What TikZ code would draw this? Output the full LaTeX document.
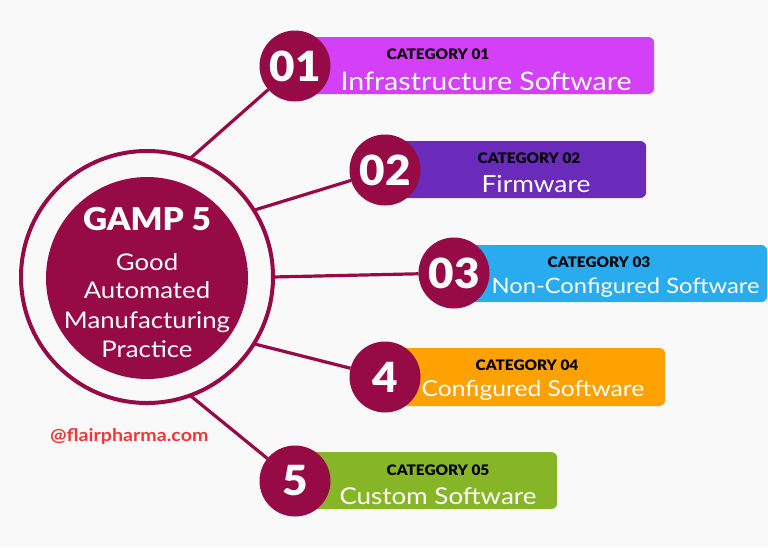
\documentclass[tikz,border=0pt]{standalone}
\usepackage{fontspec}
\setmainfont{Lato}[FakeStretch=1.12]
\newfontfamily\heavy{Lato Black}[FakeStretch=1.06]
\definecolor{bgc}{HTML}{F9F9F9}
\definecolor{maroon}{HTML}{960A46}
\definecolor{cA}{HTML}{D440F8}
\definecolor{cB}{HTML}{6A2ABA}
\definecolor{cC}{HTML}{29ABEF}
\definecolor{cD}{HTML}{FFA100}
\definecolor{cE}{HTML}{86B627}
\definecolor{wm}{HTML}{F53535}
\begin{document}
\begin{tikzpicture}[x=1pt,y=-1pt,
  num/.style={circle, fill=maroon, text=white, minimum size=71pt, inner sep=0pt, outer sep=0pt, font=\heavy\fontsize{41.5}{41.5}\selectfont},
  cbox/.style={rounded corners=6pt, minimum height=57pt, inner sep=0pt, anchor=west},
  cat/.style={anchor=base, inner sep=0pt, font=\heavy\fontsize{14.5}{14.5}\selectfont, text=black},
  ctext/.style={anchor=base, inner sep=0pt, text=white},
  mid/.style={anchor=base, inner sep=0pt, font=\fontsize{23}{23}\selectfont, text=white},
  link/.style={draw=maroon, line width=3.2pt}]
\fill[bgc] (0,0) rectangle (768,547);
\useasboundingbox (0,0) rectangle (768,547);
% boxes
\node[cbox, fill=cA, minimum width=359pt] (b1) at (295,65.5) {};
\node[cbox, fill=cB, minimum width=261pt] (b2) at (385,169.5) {};
\node[cbox, fill=cC, minimum width=313pt] (b3) at (454,273.5) {};
\node[cbox, fill=cD, minimum width=280pt, minimum height=58pt] (b4) at (385,377) {};
\node[cbox, fill=cE, minimum width=262pt] (b5) at (295,480.5) {};
% texts
\node[cat] (t1) at (438,59) {CATEGORY 01};
\node[ctext, font=\fontsize{25.5}{25.5}\selectfont] (s1) at (486,90.5) {Infrastructure Software};
\node[cat] (t2) at (529,163) {CATEGORY 02};
\node[ctext, font=\fontsize{23.5}{23.5}\selectfont] (s2) at (536,192.7) {Firmware};
\node[cat] (t3) at (599,267.3) {CATEGORY 03};
\node[ctext, font=\fontsize{21.2}{21.2}\selectfont] (s3) at (625.5,293.5) {Non-Configured Software};
\node[cat] (t4) at (527,370.7) {CATEGORY 04};
\node[ctext, font=\fontsize{22}{22}\selectfont] (s4) at (533,396.7) {Configured Software};
\node[cat] (t5) at (438,475) {CATEGORY 05};
\node[ctext, font=\fontsize{23.2}{23.2}\selectfont] (s5) at (438,504) {Custom Software};
% number circles
\node[num] (n1) at (295,66) {01};
\node[num] (n2) at (385,170) {02};
\node[num] (n3) at (454,273) {03};
\node[num] (n4) at (385,377) {4};
\node[num] (n5) at (295,481) {5};
% hub
\node[circle, draw=maroon, line width=4pt, minimum size=252pt, inner sep=0pt, outer sep=0pt] (ring) at (147,277) {};
\node[circle, fill=maroon, minimum size=202pt, inner sep=0pt] (hub) at (147,278) {};
\node[anchor=base, inner sep=0pt, text=white, font=\heavy\fontsize{31.5}{31.5}\selectfont] (title) at (147,230.7) {GAMP 5};
\node[mid] (m1) at (147,270) {Good};
\node[mid] (m2) at (147,298.3) {Automated};
\node[mid] (m3) at (147,328.3) {Manufacturing};
\node[mid] (m4) at (147,357.3) {Practice};
% connectors
\draw[link] (ring.70) -- (n1);
\draw[link] (ring.32) -- (n2);
\draw[link] (ring.0) -- (n3);
\draw[link] (ring.-32) -- (n4);
\draw[link] (ring.-70) -- (n5);
% watermark
\node[anchor=base west, inner sep=0pt, text=wm, font=\bfseries\fontsize{17.5}{17.5}\selectfont] (mark) at (50,441.7) {@flairpharma.com};
\end{tikzpicture}
\end{document}
